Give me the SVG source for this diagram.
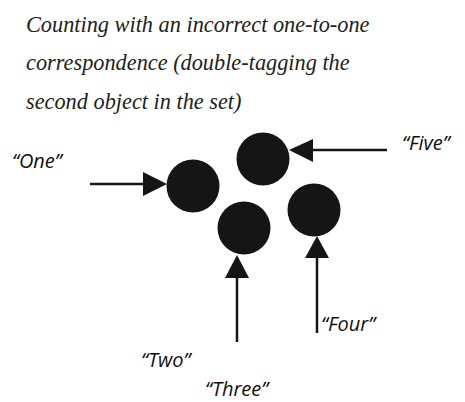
<svg xmlns="http://www.w3.org/2000/svg" width="465" height="402" viewBox="0 0 465 402">
  <style>
    .dot { fill: #151515; }
    .wire { stroke: #151515; stroke-width: 2.5; fill: none; }
    .head { fill: #151515; }
  </style>
  <rect width="465" height="402" fill="#fff"/>

  <g id="caption">
    <text x="26" y="31.5" font-family="Liberation Serif" font-style="italic" font-size="22.3" fill="#222">Counting with an incorrect one-to-one</text>
    <text x="26" y="70" font-family="Liberation Serif" font-style="italic" font-size="22.3" fill="#222">correspondence (double-tagging the</text>
    <text x="26" y="108.5" font-family="Liberation Serif" font-style="italic" font-size="22.3" fill="#222">second object in the set)</text>
  </g>

  <!-- the four objects -->
  <g id="object-1"><circle class="dot" cx="193" cy="186" r="26.5"/></g>
  <g id="object-2"><circle class="dot" cx="263" cy="159" r="26.5"/></g>
  <g id="object-3"><circle class="dot" cx="244" cy="228" r="26.5"/></g>
  <g id="object-4"><circle class="dot" cx="314" cy="210" r="26.5"/></g>

  <!-- pointing arrows -->
  <g id="connectors">
    <line class="wire" x1="90" y1="184" x2="145" y2="184"/>
    <polygon class="head" points="143,172 167,184 143,196"/>
    <line class="wire" x1="387" y1="150" x2="311" y2="150"/>
    <polygon class="head" points="313,139 289,150 313,162"/>
    <line class="wire" x1="237" y1="342" x2="237" y2="276"/>
    <polygon class="head" points="225,278 237,255 249,278"/>
    <line class="wire" x1="317" y1="333" x2="317" y2="256"/>
    <polygon class="head" points="305,258 317,236 329,258"/>
  </g>

  <g id="label-one"><text x="12" y="168" font-family="Open Sans" font-style="italic" font-size="20" fill="#111">“One”</text></g>
  <g id="label-five"><text x="402" y="150" font-family="Open Sans" font-style="italic" font-size="20" fill="#111">“Five”</text></g>
  <g id="label-four"><text x="321" y="331" font-family="Open Sans" font-style="italic" font-size="20" fill="#111">“Four”</text></g>
  <g id="label-two"><text x="141" y="367" font-family="Open Sans" font-style="italic" font-size="20" fill="#111">“Two”</text></g>
  <g id="label-three"><text x="205" y="396" font-family="Open Sans" font-style="italic" font-size="20" fill="#111">“Three”</text></g>
</svg>
